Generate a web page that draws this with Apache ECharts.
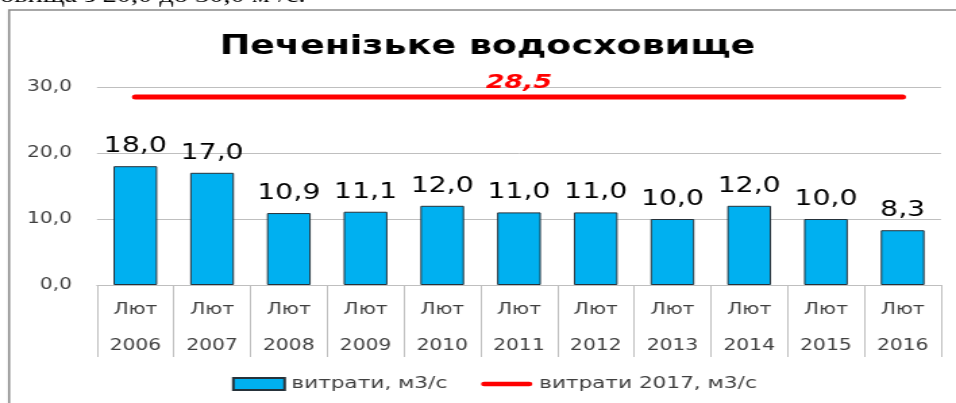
<!DOCTYPE html>
<html>
<head>
<meta charset="utf-8">
<script src="https://cdn.jsdelivr.net/npm/echarts@6/dist/echarts.min.js"></script>
<style>
  html, body { margin: 0; padding: 0; background: #fff; overflow: hidden; }
  /* the reference picture is stretched sideways, so the chart is drawn narrow and scaled */
  #chart { width: 708px; height: 403px; transform: scaleX(1.35028); transform-origin: 0 0; }
</style>
</head>
<body>
<div id="chart"></div>
<script>
var months = ["Лют", "Лют", "Лют", "Лют", "Лют", "Лют", "Лют", "Лют", "Лют", "Лют", "Лют"];
var years = ["2006", "2007", "2008", "2009", "2010", "2011", "2012", "2013", "2014", "2015", "2016"];
var flow = [18.0, 17.0, 10.9, 11.1, 12.0, 11.0, 11.0, 10.0, 12.0, 10.0, 8.3];
var flow2017 = [28.5, 28.5, 28.5, 28.5, 28.5, 28.5, 28.5, 28.5, 28.5, 28.5, 28.5];
var yTicks = [0, 10, 20, 30];

var categories = months.map(function (m, i) { return m + "\n" + years[i]; });
function comma(v) { return Number(v).toFixed(1).replace(".", ","); }

// only the middle point of the 2017 line carries its label
var lineData = flow2017.map(function (v, i) {
  return i === 5 ? { value: v, label: { show: true } } : v;
});

var font = "DejaVu Sans";
var chart = echarts.init(document.getElementById("chart"));
chart.setOption({
  animation: false,
  textStyle: { fontFamily: font },
  graphic: [
    {
      type: "text", left: 0, top: -14, silent: true,
      style: { text: "овища з 20,0 до 30,0 м³/с.", font: "21px 'Liberation Serif'", fill: "#000" }
    },
    {
      type: "rect", silent: true,
      shape: { x: 6.7, y: 10, width: 800, height: 500 },
      style: { fill: "none", stroke: "#8a8a8a", lineWidth: 1.6 }
    },
    {
      type: "text", x: 361, y: 47, silent: true,
      style: {
        text: "Печенізьке водосховище", font: "bold 27px 'DejaVu Sans'", fill: "#000",
        align: "center", verticalAlign: "middle"
      }
    }
  ],
  grid: { left: 71.8, right: 11.1, top: 87, bottom: 118 },
  legend: {
    left: 171.8, top: 376, padding: 0,
    itemWidth: 38, itemHeight: 12, itemGap: 25,
    textStyle: { fontFamily: font, fontSize: 16, color: "#404040" },
    data: [
      { name: "витрати, м3/с", icon: "rect" },
      { name: "витрати 2017, м3/с", icon: "path://M2.5,0 L39.5,0 A2.5,2.5 0 0 1 39.5,5 L2.5,5 A2.5,2.5 0 0 1 2.5,0 Z" }
    ]
  },
  xAxis: {
    type: "category",
    data: categories,
    axisLine: { lineStyle: { color: "#bfbfbf", width: 1 } },
    axisTick: { show: true, length: 72, interval: 0, lineStyle: { color: "#bfbfbf" } },
    axisLabel: {
      interval: 0, margin: 7,
      formatter: function (v) {
        var p = v.split("\n");
        return "{a|" + p[0] + "}\n{a|" + p[1] + "}";
      },
      rich: {
        a: { fontFamily: "DejaVu Sans", fontSize: 15, lineHeight: 36, color: "#404040" }
      }
    }
  },
  yAxis: {
    type: "value",
    min: yTicks[0], max: yTicks[yTicks.length - 1], interval: 10,
    axisLine: { show: false },
    axisTick: { show: false },
    splitLine: { lineStyle: { color: "#bfbfbf", width: 1 } },
    axisLabel: { margin: 18.5, fontSize: 15, color: "#404040", fontFamily: font, formatter: comma }
  },
  series: [
    {
      name: "витрати, м3/с",
      type: "bar",
      data: flow,
      barWidth: "57%",
      itemStyle: { color: "#00b0f0", borderColor: "#26323a", borderWidth: 1 },
      label: {
        show: true, position: "top", distance: 9,
        fontSize: 21, color: "#000", fontFamily: font,
        formatter: function (p) { return comma(p.value); }
      }
    },
    {
      name: "витрати 2017, м3/с",
      type: "line",
      data: lineData,
      symbol: "circle",
      symbolSize: 1,
      showSymbol: true,
      lineStyle: { color: "#ff0000", width: 5, cap: "round" },
      itemStyle: { color: "#ff0000" },
      label: {
        show: false, position: "top", distance: 4,
        fontSize: 20, fontWeight: "bold", fontStyle: "italic", color: "#ff0000", fontFamily: font,
        formatter: function (p) { return comma(p.value); }
      },
      z: 3
    }
  ]
});
</script>
</body>
</html>
